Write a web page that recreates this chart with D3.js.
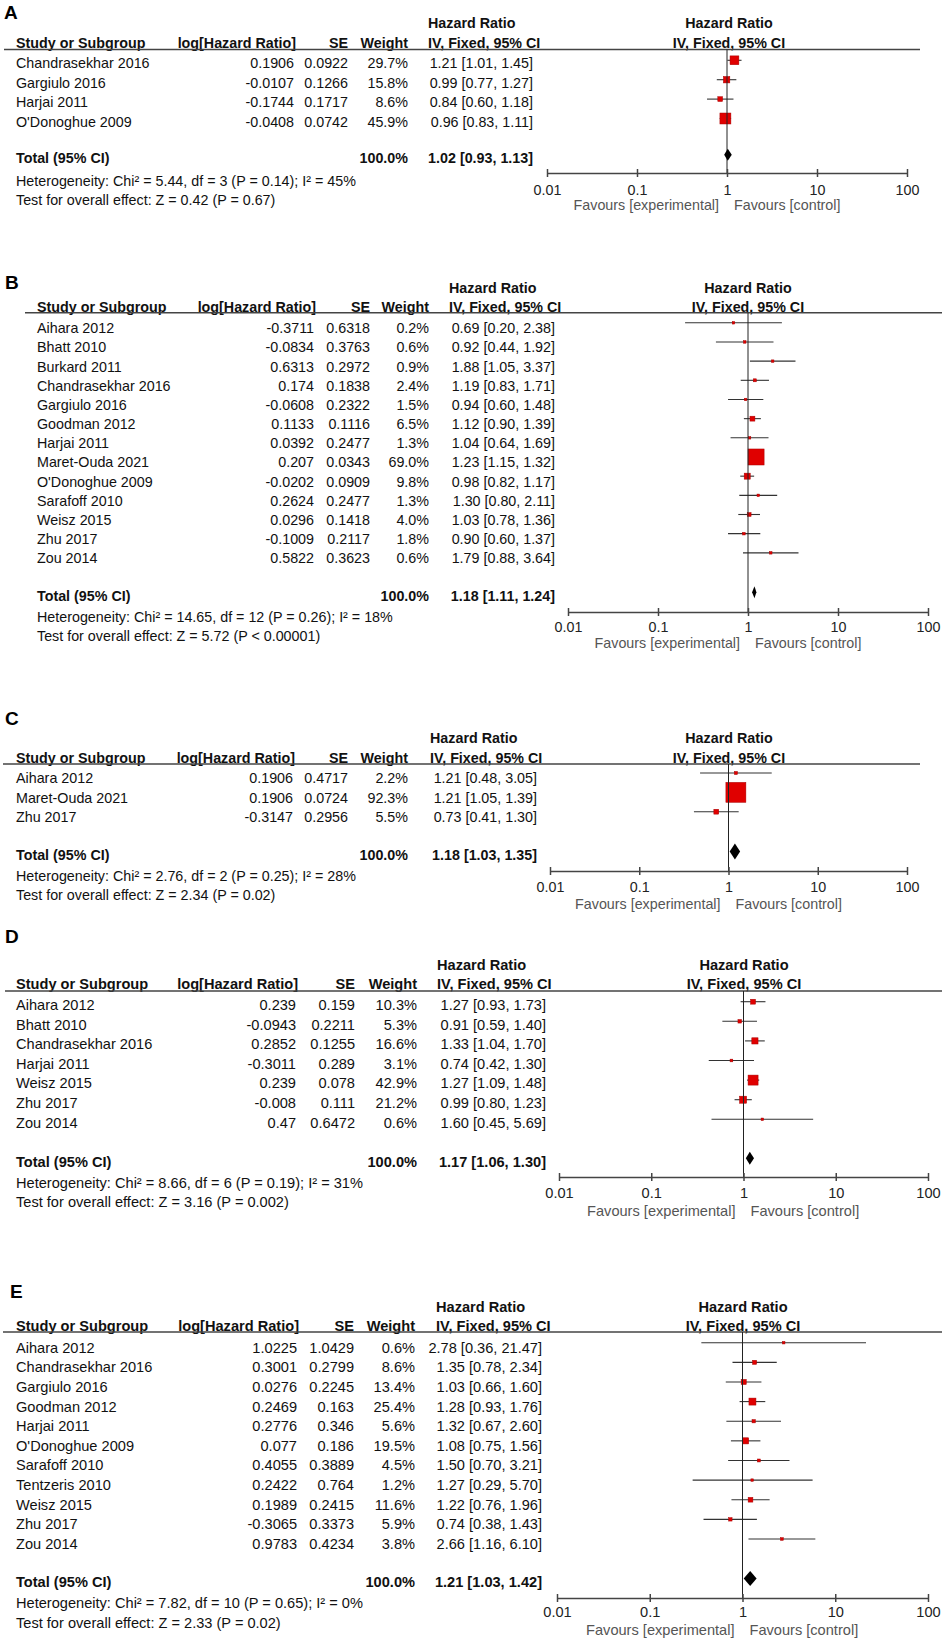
<!DOCTYPE html>
<html>
<head>
<meta charset="utf-8">
<script src="https://cdn.jsdelivr.net/npm/d3@7"></script>
<style>
  body { margin: 0; background: #fff; }
  text { font-family: "Liberation Sans", Arial, sans-serif; }
</style>
</head>
<body>
<script>
// Forest plots A-E: hazard ratios, IV fixed effect

// ---- data ----
const panelLabels = ['A', 'B', 'C', 'D', 'E'];

const studiesA = ['Chandrasekhar 2016', 'Gargiulo 2016', 'Harjai 2011', "O'Donoghue 2009"];
const logHrA = [0.1906, -0.0107, -0.1744, -0.0408];
const seA = [0.0922, 0.1266, 0.1717, 0.0742];
const weightA = [29.7, 15.8, 8.6, 45.9];
const hrA = [1.21, 0.99, 0.84, 0.96];
const lowA = [1.01, 0.77, 0.60, 0.83];
const highA = [1.45, 1.27, 1.18, 1.11];

const studiesB = ['Aihara 2012', 'Bhatt 2010', 'Burkard 2011', 'Chandrasekhar 2016', 'Gargiulo 2016',
  'Goodman 2012', 'Harjai 2011', 'Maret-Ouda 2021', "O'Donoghue 2009", 'Sarafoff 2010',
  'Weisz 2015', 'Zhu 2017', 'Zou 2014'];
const logHrB = [-0.3711, -0.0834, 0.6313, 0.174, -0.0608, 0.1133, 0.0392, 0.207, -0.0202, 0.2624, 0.0296, -0.1009, 0.5822];
const seB = [0.6318, 0.3763, 0.2972, 0.1838, 0.2322, 0.1116, 0.2477, 0.0343, 0.0909, 0.2477, 0.1418, 0.2117, 0.3623];
const weightB = [0.2, 0.6, 0.9, 2.4, 1.5, 6.5, 1.3, 69.0, 9.8, 1.3, 4.0, 1.8, 0.6];
const hrB = [0.69, 0.92, 1.88, 1.19, 0.94, 1.12, 1.04, 1.23, 0.98, 1.30, 1.03, 0.90, 1.79];
const lowB = [0.20, 0.44, 1.05, 0.83, 0.60, 0.90, 0.64, 1.15, 0.82, 0.80, 0.78, 0.60, 0.88];
const highB = [2.38, 1.92, 3.37, 1.71, 1.48, 1.39, 1.69, 1.32, 1.17, 2.11, 1.36, 1.37, 3.64];

const studiesC = ['Aihara 2012', 'Maret-Ouda 2021', 'Zhu 2017'];
const logHrC = [0.1906, 0.1906, -0.3147];
const seC = [0.4717, 0.0724, 0.2956];
const weightC = [2.2, 92.3, 5.5];
const hrC = [1.21, 1.21, 0.73];
const lowC = [0.48, 1.05, 0.41];
const highC = [3.05, 1.39, 1.30];

const studiesD = ['Aihara 2012', 'Bhatt 2010', 'Chandrasekhar 2016', 'Harjai 2011', 'Weisz 2015', 'Zhu 2017', 'Zou 2014'];
const logHrD = [0.239, -0.0943, 0.2852, -0.3011, 0.239, -0.008, 0.47];
const seD = [0.159, 0.2211, 0.1255, 0.289, 0.078, 0.111, 0.6472];
const weightD = [10.3, 5.3, 16.6, 3.1, 42.9, 21.2, 0.6];
const hrD = [1.27, 0.91, 1.33, 0.74, 1.27, 0.99, 1.60];
const lowD = [0.93, 0.59, 1.04, 0.42, 1.09, 0.80, 0.45];
const highD = [1.73, 1.40, 1.70, 1.30, 1.48, 1.23, 5.69];

const studiesE = ['Aihara 2012', 'Chandrasekhar 2016', 'Gargiulo 2016', 'Goodman 2012', 'Harjai 2011',
  "O'Donoghue 2009", 'Sarafoff 2010', 'Tentzeris 2010', 'Weisz 2015', 'Zhu 2017', 'Zou 2014'];
const logHrE = [1.0225, 0.3001, 0.0276, 0.2469, 0.2776, 0.077, 0.4055, 0.2422, 0.1989, -0.3065, 0.9783];
const seE = [1.0429, 0.2799, 0.2245, 0.163, 0.346, 0.186, 0.3889, 0.764, 0.2415, 0.3373, 0.4234];
const weightE = [0.6, 8.6, 13.4, 25.4, 5.6, 19.5, 4.5, 1.2, 11.6, 5.9, 3.8];
const hrE = [2.78, 1.35, 1.03, 1.28, 1.32, 1.08, 1.50, 1.27, 1.22, 0.74, 2.66];
const lowE = [0.36, 0.78, 0.66, 0.93, 0.67, 0.75, 0.70, 0.29, 0.76, 0.38, 1.16];
const highE = [21.47, 2.34, 1.60, 1.76, 2.60, 1.56, 3.21, 5.70, 1.96, 1.43, 6.10];

const totalHr = [1.02, 1.18, 1.18, 1.17, 1.21];
const totalLow = [0.93, 1.11, 1.03, 1.06, 1.03];
const totalHigh = [1.13, 1.24, 1.35, 1.30, 1.42];
const heterogeneity = [
  'Heterogeneity: Chi\u00b2 = 5.44, df = 3 (P = 0.14); I\u00b2 = 45%',
  'Heterogeneity: Chi\u00b2 = 14.65, df = 12 (P = 0.26); I\u00b2 = 18%',
  'Heterogeneity: Chi\u00b2 = 2.76, df = 2 (P = 0.25); I\u00b2 = 28%',
  'Heterogeneity: Chi\u00b2 = 8.66, df = 6 (P = 0.19); I\u00b2 = 31%',
  'Heterogeneity: Chi\u00b2 = 7.82, df = 10 (P = 0.65); I\u00b2 = 0%'
];
const overallTest = [
  'Test for overall effect: Z = 0.42 (P = 0.67)',
  'Test for overall effect: Z = 5.72 (P < 0.00001)',
  'Test for overall effect: Z = 2.34 (P = 0.02)',
  'Test for overall effect: Z = 3.16 (P = 0.002)',
  'Test for overall effect: Z = 2.33 (P = 0.02)'
];

const tickValues = [0.01, 0.1, 1, 10, 100];
const tickLabels = ['0.01', '0.1', '1', '10', '100'];
const colHeaders = ['Study or Subgroup', 'log[Hazard Ratio]', 'SE', 'Weight'];
const effectHeader = ['Hazard Ratio', 'IV, Fixed, 95% CI'];
const favours = ['Favours [experimental]', 'Favours [control]'];

const panelStudies = [studiesA, studiesB, studiesC, studiesD, studiesE];
const panelLogHr = [logHrA, logHrB, logHrC, logHrD, logHrE];
const panelSe = [seA, seB, seC, seD, seE];
const panelWeight = [weightA, weightB, weightC, weightD, weightE];
const panelHr = [hrA, hrB, hrC, hrD, hrE];
const panelLow = [lowA, lowB, lowC, lowD, lowE];
const panelHigh = [highA, highB, highC, highD, highE];

// ---- layout (each panel was scanned at a slightly different size) ----
const layout = [
  { fs: 14.3, labX: 4, lab: 18.5, top: 28.3, head: 48.3, rule: 49.5, row0: 68.3, step: 19.4, shift: 3,
    total: 163.3, het: 186, test: 205, axis: 173, tick: 195, fav: 210, ruleX0: 4, ruleX1: 920,
    study: 16, logEnd: 294, seEnd: 348, wEnd: 408, ci: 428, ciEnd: 533, x0: 547, x1: 907, fx: 729, boxK: 1.62, dia: 6 },
  { fs: 14.3, labX: 5, lab: 288.5, top: 293, head: 311.5, rule: 312.7, row0: 333.3, step: 19.17, shift: 5.5,
    total: 600.7, het: 621.5, test: 641, axis: 612, tick: 632, fav: 648, ruleX0: 25, ruleX1: 942,
    study: 37, logEnd: 314, seEnd: 370, wEnd: 429, ci: 449, ciEnd: 555, x0: 568, x1: 928, fx: 748, boxK: 1.93, dia: 6 },
  { fs: 14.3, labX: 5, lab: 725, top: 743, head: 762.7, rule: 764, row0: 783.3, step: 19.35, shift: 5.3,
    total: 860, het: 881, test: 900, axis: 871, tick: 892, fav: 909, ruleX0: 3, ruleX1: 920,
    study: 16, logEnd: 293, seEnd: 348, wEnd: 408, ci: 430, ciEnd: 537, x0: 550, x1: 907, fx: 729, boxK: 2.08, dia: 8 },
  { fs: 14.6, labX: 5, lab: 942.5, top: 970, head: 989, rule: 991, row0: 1010, step: 19.6, shift: 3.3,
    total: 1166.7, het: 1188.3, test: 1206.7, axis: 1177, tick: 1198, fav: 1216, ruleX0: 5, ruleX1: 942,
    study: 16, logEnd: 296, seEnd: 355, wEnd: 417, ci: 437, ciEnd: 546, x0: 559, x1: 928, fx: 744, boxK: 1.53, dia: 6.5 },
  { fs: 14.6, labX: 10, lab: 1298, top: 1312, head: 1330.5, rule: 1332, row0: 1352.7, step: 19.63, shift: 5,
    total: 1587, het: 1608, test: 1628, axis: 1598, tick: 1617, fav: 1635, ruleX0: 3, ruleX1: 942,
    study: 16, logEnd: 297, seEnd: 354, wEnd: 415, ci: 436, ciEnd: 542, x0: 557, x1: 928, fx: 743, boxK: 1.39, dia: 7.5 }
];

const f2 = d3.format('.2f');
const f1 = d3.format('.1f');

const svg = d3.select('body').append('svg')
    .attr('width', 945)
    .attr('height', 1642);

function label(g, x, y, s, anchor, bold, fill) {
  return g.append('text')
      .attr('x', x)
      .attr('y', y)
      .attr('text-anchor', anchor || 'start')
      .attr('font-weight', bold ? 'bold' : 'normal')
      .attr('fill', fill || '#111')
      .text(s);
}

panelLabels.forEach((name, i) => {
  const L = layout[i];
  const g = svg.append('g').style('font-size', L.fs + 'px');
  const n = panelStudies[i].length;

  const rows = panelStudies[i].map((s, j) => ({
    study: s,
    logHr: panelLogHr[i][j],
    se: panelSe[i][j],
    weight: panelWeight[i][j],
    hr: panelHr[i][j],
    lo: panelLow[i][j],
    hi: panelHigh[i][j]
  }));

  const x = d3.scaleLog().domain([0.01, 100]).range([L.x0, L.x1]);
  const y = d3.scaleLinear().domain([0, n - 1]).range([L.row0, L.row0 + (n - 1) * L.step]);

  // panel letter
  label(g, L.labX, L.lab, name, 'start', true, '#000').style('font-size', '19px');

  // headers
  label(g, L.ci, L.top, effectHeader[0], 'start', true);
  label(g, L.fx, L.top, effectHeader[0], 'middle', true);
  label(g, L.study, L.head, colHeaders[0], 'start', true);
  label(g, L.logEnd + 2, L.head, colHeaders[1], 'end', true);
  label(g, L.seEnd, L.head, colHeaders[2], 'end', true);
  label(g, L.wEnd, L.head, colHeaders[3], 'end', true);
  label(g, L.ci, L.head, effectHeader[1], 'start', true);
  label(g, L.fx, L.head, effectHeader[1], 'middle', true);

  g.append('line')
      .attr('x1', L.ruleX0).attr('x2', L.ruleX1)
      .attr('y1', L.rule).attr('y2', L.rule)
      .attr('stroke', '#444').attr('stroke-width', 1.5);

  // table rows
  const r = g.selectAll('g.row').data(rows).join('g').attr('class', 'row');
  r.append('text').attr('x', L.study).attr('y', (d, j) => y(j)).attr('fill', '#111').text(d => d.study);
  r.append('text').attr('x', L.logEnd).attr('y', (d, j) => y(j)).attr('text-anchor', 'end').attr('fill', '#111').text(d => String(d.logHr));
  r.append('text').attr('x', L.seEnd).attr('y', (d, j) => y(j)).attr('text-anchor', 'end').attr('fill', '#111').text(d => String(d.se));
  r.append('text').attr('x', L.wEnd).attr('y', (d, j) => y(j)).attr('text-anchor', 'end').attr('fill', '#111').text(d => f1(d.weight) + '%');
  r.append('text').attr('x', L.ciEnd).attr('y', (d, j) => y(j)).attr('text-anchor', 'end').attr('fill', '#111')
      .text(d => `${f2(d.hr)} [${f2(d.lo)}, ${f2(d.hi)}]`);

  // total + footnotes
  label(g, L.study, L.total, 'Total (95% CI)', 'start', true);
  label(g, L.wEnd, L.total, '100.0%', 'end', true);
  label(g, L.ciEnd, L.total, `${f2(totalHr[i])} [${f2(totalLow[i])}, ${f2(totalHigh[i])}]`, 'end', true);
  label(g, L.study, L.het, heterogeneity[i], 'start', false);
  label(g, L.study, L.test, overallTest[i], 'start', false);

  // line of no effect
  g.append('line')
      .attr('x1', x(1)).attr('x2', x(1))
      .attr('y1', L.rule).attr('y2', L.axis)
      .attr('stroke', '#222').attr('stroke-width', 1);

  // confidence intervals
  r.append('line')
      .attr('x1', d => x(d.lo)).attr('x2', d => x(d.hi))
      .attr('y1', (d, j) => y(j) - 5 - L.shift).attr('y2', (d, j) => y(j) - 5 - L.shift)
      .attr('stroke', '#333').attr('stroke-width', 1.1);

  // weight boxes
  r.append('rect')
      .each(function (d, j) {
        const s = Math.max(2.5, L.boxK * Math.sqrt(d.weight));
        d3.select(this)
            .attr('x', x(d.hr) - s / 2)
            .attr('y', y(j) - 5 - L.shift - s / 2)
            .attr('width', s)
            .attr('height', s);
      })
      .attr('fill', '#e00000')
      .attr('stroke', '#a80000')
      .attr('stroke-width', 0.5);

  // pooled diamond
  const dy = L.total - 8.5;
  g.append('path')
      .attr('d', `M${x(totalLow[i])},${dy} L${x(totalHr[i])},${dy - L.dia} L${x(totalHigh[i])},${dy} L${x(totalHr[i])},${dy + L.dia} Z`)
      .attr('fill', '#000');

  // axis
  const axis = d3.axisBottom(x)
      .tickValues(tickValues)
      .tickFormat((d, k) => tickLabels[k])
      .tickSizeOuter(0)
      .tickSizeInner(4);

  const ax = g.append('g')
      .attr('transform', `translate(0,${L.axis})`)
      .call(axis)
      .attr('font-size', null)
      .attr('font-family', null);

  ax.select('.domain').attr('stroke', '#444').attr('stroke-width', 1.5);
  ax.selectAll('.tick line').attr('y1', -4).attr('y2', 4).attr('stroke', '#444').attr('stroke-width', 1.5);
  ax.selectAll('.tick text').attr('y', L.tick - L.axis).attr('dy', null).attr('fill', '#222');

  label(g, x(1) - 8, L.fav, favours[0], 'end', false, '#555');
  label(g, x(1) + 7, L.fav, favours[1], 'start', false, '#555');
});
</script>
</body>
</html>
